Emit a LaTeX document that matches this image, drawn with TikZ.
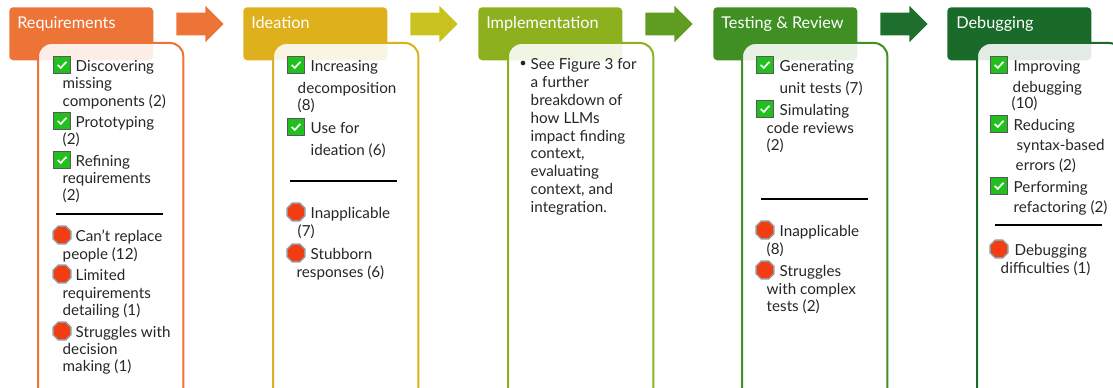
\documentclass[tikz,border=0pt]{standalone}
\usepackage{fontspec}
\setmainfont{Lato}
\usetikzlibrary{positioning,shapes.arrows,shapes.geometric}

\definecolor{reqcol}{HTML}{ED7336}
\definecolor{ideacol}{HTML}{DDB01C}
\definecolor{implcol}{HTML}{8DB01F}
\definecolor{testcol}{HTML}{3F8F23}
\definecolor{debugcol}{HTML}{1A6A29}
\definecolor{arrowb}{HTML}{C9C31F}
\definecolor{arrowc}{HTML}{5E9C22}
\definecolor{arrowd}{HTML}{1E6F2E}
\definecolor{okgreen}{HTML}{22C01E}
\definecolor{stopred}{HTML}{F23D14}
\definecolor{inktext}{HTML}{262626}

\tikzset{
  header/.style={draw=none,rectangle,rounded corners=3pt,anchor=north west,inner sep=0pt,minimum width=108pt,minimum height=39.75pt},
  headtext/.style={anchor=base west,inner sep=0pt,text=white,font=\fontsize{12.2pt}{14pt}\selectfont},
  body/.style={rectangle,rounded corners=10pt,line width=1.5pt,fill=white,fill opacity=0.88,draw opacity=1,anchor=north west,inner sep=0pt,minimum width=109pt,minimum height=270pt},
  steparrow/.style={single arrow,draw=none,anchor=west,inner sep=0pt,text height=8.25pt,text depth=8.25pt,single arrow head extend=5.25pt,single arrow tip angle=90,minimum height=35.5pt},
  linetxt/.style={anchor=base west,inner sep=0pt,xshift=-0.4pt,yshift=-0.6pt,text=inktext,font=\fontsize{11.4pt}{13pt}\selectfont},
  rulenode/.style={inner sep=0pt,minimum width=0pt},
  okbox/.style={rectangle,draw=gray!70!black,line width=0.7pt,fill=okgreen,minimum size=12.5pt,inner sep=0pt,
    path picture={\draw[white,line width=1.3pt]
      ([shift={(-3.2pt,0pt)}]path picture bounding box.center) --
      ([shift={(-1pt,-2.2pt)}]path picture bounding box.center) --
      ([shift={(3.4pt,2.4pt)}]path picture bounding box.center);}},
  stopsign/.style={regular polygon,regular polygon sides=8,draw=gray!80,line width=1.1pt,fill=stopred,minimum size=14.5pt,inner sep=0pt},
}

\begin{document}
\begin{tikzpicture}[x=0.75pt,y=-0.75pt]
  \clip (0,0) rectangle (1113,388);

  % Arrows
  \node[steparrow,fill=reqcol] (arrow1) at (176,24) {};
  \node[steparrow,fill=arrowb] (arrow2) at (410,24) {};
  \node[steparrow,fill=arrowc] (arrow3) at (645,24) {};
  \node[steparrow,fill=arrowd] (arrow4) at (880,24) {};

  % Headers
  \node[header,fill=reqcol] (reqHead) at (9,7) {};
  \node[header,fill=ideacol] (ideaHead) at (243,7) {};
  \node[header,fill=implcol] (implHead) at (478,7) {};
  \node[header,fill=testcol] (testHead) at (713,7) {};
  \node[header,fill=debugcol] (debugHead) at (947,7) {};

  \node[headtext] (reqTitle) at (17,29) {Requirements};
  \node[headtext] (ideaTitle) at (251,29) {Ideation};
  \node[headtext] (implTitle) at (486,29) {Implementation};
  \node[headtext] (testTitle) at (721,29) {Testing \& Review};
  \node[headtext] (debugTitle) at (956,29) {Debugging};

  % Bodies
  \node[body,draw=reqcol] (reqBody) at (37,42) {};
  \node[body,draw=ideacol] (ideaBody) at (272,42) {};
  \node[body,draw=implcol] (implBody) at (507,42) {};
  \node[body,draw=testcol] (testBody) at (741,42) {};
  \node[body,draw=debugcol] (debugBody) at (976,42) {};

  % Requirements
  \foreach \px/\py [count=\i] in {62/65,62/121,62/160}
    \node[okbox] (reqOk\i) at (\px,\py) {};
  \foreach \px/\py [count=\i] in {62/235,62/274,62/331}
    \node[stopsign] (reqStop\i) at (\px,\py) {};
  \foreach \px/\py/\txt [count=\i] in {
    76/71/Discovering, 63/88/missing, 63/106/components (2), 76/127/Prototyping, 63/144/(2),
    76/166/Refining, 63/183/requirements, 63/200/(2),
    76/241/Can’t replace, 63/259/people (12), 76/280/Limited, 63/298/requirements,
    63/315/detailing (1), 76/337/Struggles with, 63/354/decision, 63/371/making (1)}
    \node[linetxt] (reqLine\i) at (\px,\py) {\txt};
  \node[rulenode] (reqRuleA) at (56,214) {};
  \node[rulenode] (reqRuleB) at (163,214) {};
  \draw[line width=0.9pt] (reqRuleA) -- (reqRuleB);

  % Ideation
  \foreach \px/\py [count=\i] in {296/65,296/127}
    \node[okbox] (ideaOk\i) at (\px,\py) {};
  \foreach \px/\py [count=\i] in {296/212,296/253}
    \node[stopsign] (ideaStop\i) at (\px,\py) {};
  \foreach \px/\py/\txt [count=\i] in {
    311/71/Increasing, 298/93/decomposition, 298/110/(8), 311/133/Use for, 311/155/ideation (6),
    311/218/Inapplicable, 298/236/(7), 311/259/Stubborn, 297/277/responses (6)}
    \node[linetxt] (ideaLine\i) at (\px,\py) {\txt};
  \node[rulenode] (ideaRuleA) at (290,181) {};
  \node[rulenode] (ideaRuleB) at (397,181) {};
  \draw[line width=0.9pt] (ideaRuleA) -- (ideaRuleB);

  % Implementation
  \node[circle,fill=inktext,minimum size=3.5pt,inner sep=0pt] (implDot) at (523,63) {};
  \foreach \py/\txt [count=\i] in {
    69/See Figure 3 for, 87/a further, 105/breakdown of, 123/how LLMs, 141/impact finding,
    158/{context,}, 176/evaluating, 194/{context, and}, 212/integration.}
    \node[linetxt] (implLine\i) at (531,\py) {\txt};

  % Testing
  \foreach \px/\py [count=\i] in {765/65,765/109}
    \node[okbox] (testOk\i) at (\px,\py) {};
  \foreach \px/\py [count=\i] in {765/230,765/270}
    \node[stopsign] (testStop\i) at (\px,\py) {};
  \foreach \px/\py/\txt [count=\i] in {
    780/71/Generating, 780/93/unit tests (7), 780/115/Simulating, 767/133/code reviews, 767/150/(2),
    780/236/Inapplicable, 767/254/(8), 780/276/Struggles, 767/294/with complex, 767/311/tests (2)}
    \node[linetxt] (testLine\i) at (\px,\py) {\txt};
  \node[rulenode] (testRuleA) at (761,199) {};
  \node[rulenode] (testRuleB) at (868,199) {};
  \draw[line width=0.9pt] (testRuleA) -- (testRuleB);

  % Debugging
  \foreach \px/\py [count=\i] in {999/65,999/124,999/186}
    \node[okbox] (debugOk\i) at (\px,\py) {};
  \node[stopsign] (debugStop1) at (999,249) {};
  \foreach \px/\py/\txt [count=\i] in {
    1014/71/Improving, 1013/92/debugging, 1012/108/(10), 1014/130/Reducing, 1017/150/syntax-based,
    1016/170/errors (2), 1014/192/Performing, 1014/212/refactoring (2),
    1015/255/Debugging, 1001/273/difficulties (1)}
    \node[linetxt] (debugLine\i) at (\px,\py) {\txt};
  \node[rulenode] (debugRuleA) at (995,225) {};
  \node[rulenode] (debugRuleB) at (1102,225) {};
  \draw[line width=0.9pt] (debugRuleA) -- (debugRuleB);
\end{tikzpicture}
\end{document}
